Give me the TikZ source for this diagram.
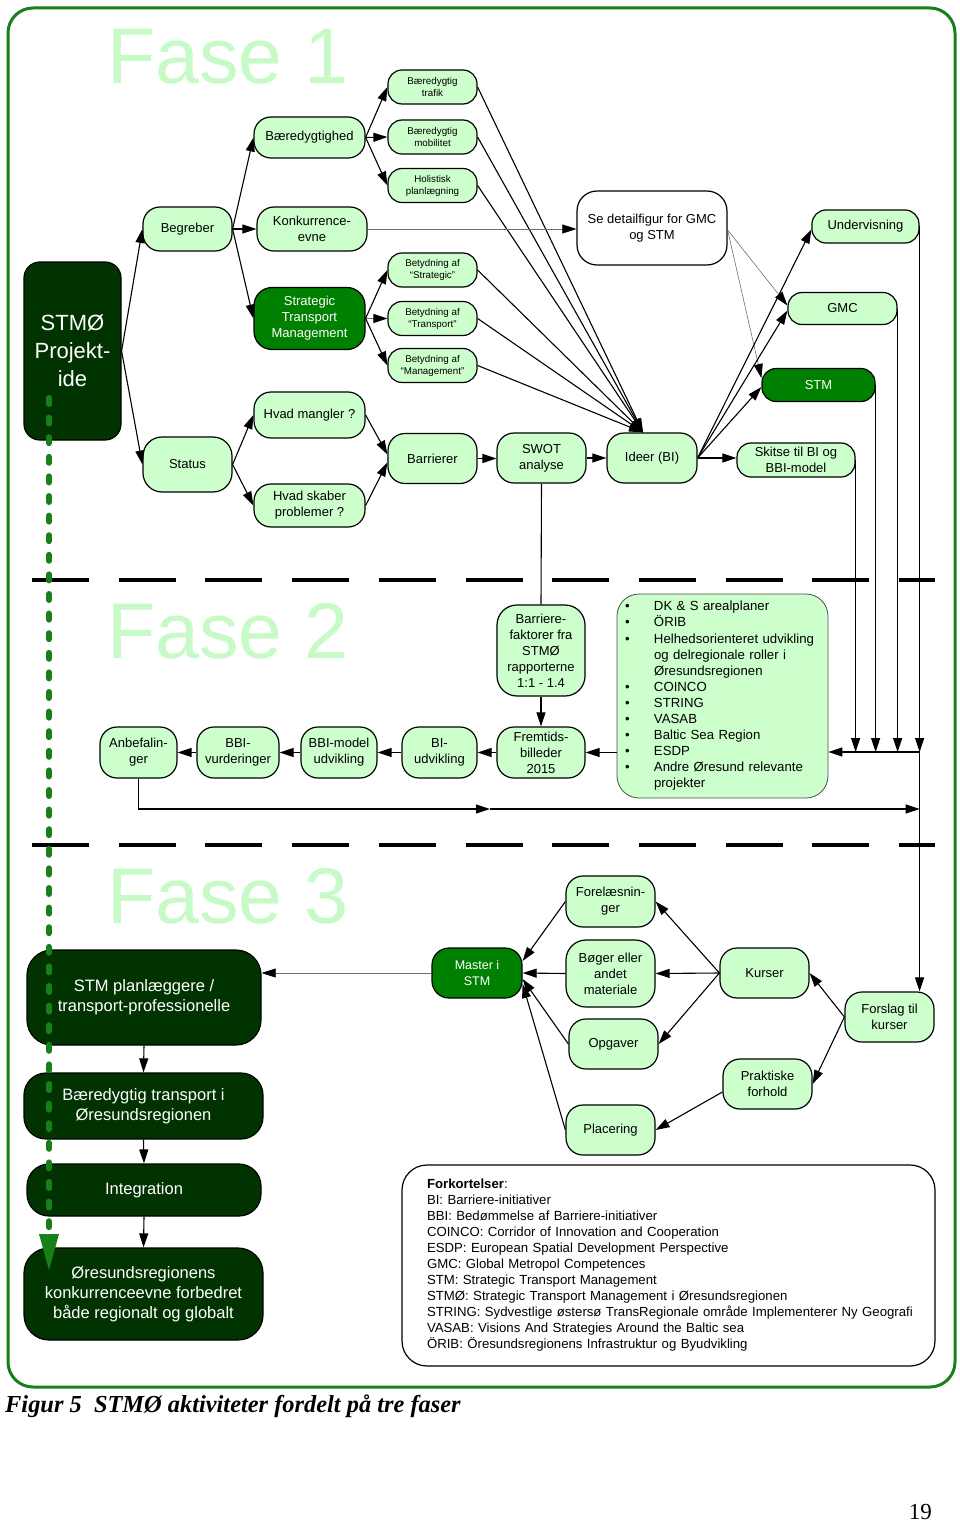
\documentclass[tikz,border=0pt]{standalone}
\usepackage{fontspec}
\setmainfont{Liberation Sans}
\newfontfamily\serifcap{Liberation Serif}
\usetikzlibrary{arrows.meta}
\definecolor{lgreen}{RGB}{204,255,204}
\definecolor{mgreen}{RGB}{0,128,0}
\definecolor{dgreen}{RGB}{0,51,0}
\definecolor{framegreen}{RGB}{24,128,24}
\definecolor{fasegreen}{RGB}{200,250,200}
\definecolor{thingray}{RGB}{110,110,110}
\newcommand\listbul{\makebox[37pt][l]{\hspace{8pt}\textbullet}}
\newcommand\listind{\hspace*{37pt}}
\tikzset{
  nbase/.style={draw=black, line width=1.2pt, align=center, inner sep=0pt},
  lg/.style={nbase, fill=lgreen, font=\fontsize{13}{16}\selectfont, rounded corners=17pt},
  lgs/.style={nbase, fill=lgreen, font=\fontsize{9.8}{12}\selectfont, rounded corners=14pt, minimum width=89pt, minimum height=34pt},
  mg/.style={lg, fill=mgreen, text=white},
  dg/.style={nbase, fill=dgreen, text=white, font=\fontsize{16.5}{20}\selectfont, rounded corners=22pt},
  arr/.style={line width=1.1pt, -{Triangle[length=14pt,width=9pt]}},
  tarr/.style={line width=0.6pt, draw=thingray, -{Triangle[length=14pt,width=9pt,color=black]}},
  plainline/.style={line width=1.1pt},
  fase/.style={font=\fontsize{79}{80}\selectfont, text=fasegreen, inner sep=0pt, anchor=base west},
}
\begin{document}
\begin{tikzpicture}[x=1pt,y=-1pt]
\useasboundingbox (0,0) rectangle (960,1522);
% frame
\draw[framegreen, line width=3pt, rounded corners=25pt] (8,8) rectangle (955,1387);
% phase titles
\node[fase] (f1) at (107,84) {Fase 1};
\node[fase] (f2) at (107,658) {Fase 2};
\node[fase] (f3) at (107,923) {Fase 3};
% separators
\coordinate (sa1) at (32,580); \coordinate (sa2) at (935,580);
\coordinate (sb1) at (32,845); \coordinate (sb2) at (935,845);
\draw[line width=4pt, dash pattern=on 57pt off 29.7pt] (sa1) -- (sa2);
\draw[line width=4pt, dash pattern=on 57pt off 29.7pt] (sb1) -- (sb2);

% ---------- Fase 1 ----------
\node[dg, font=\fontsize{22}{28}\selectfont, rounded corners=16pt, minimum width=97pt, minimum height=178pt] (stmo) at (72.5,351) {STMØ\\Projekt-\\ide};
\node[lg, minimum width=89pt, minimum height=44pt] (begr) at (187.5,229) {Begreber};
\node[lg, minimum width=89pt, minimum height=55pt, rounded corners=19pt] (status) at (187.5,464.5) {Status};
\node[lg, minimum width=111pt, minimum height=41pt] (baer) at (309.5,137.5) {Bæredygtighed};
\node[lg, minimum width=110pt, minimum height=44pt] (konk) at (312,229) {Konkurrence-\\evne};
\node[mg, minimum width=111pt, minimum height=62pt, rounded corners=18pt] (stmn) at (309.5,318.5) {Strategic\\Transport\\Management};
\node[lg, minimum width=111pt, minimum height=46pt] (hvm) at (309.5,415) {Hvad mangler ?};
\node[lg, minimum width=111pt, minimum height=43pt] (hvs) at (309.5,505.5) {Hvad skaber\\problemer ?};
\node[lgs] (s1) at (432.5,87) {Bæredygtig\\trafik};
\node[lgs] (s2) at (432.5,137) {Bæredygtig\\mobilitet};
\node[lgs] (s3) at (432.5,185.5) {Holistisk\\planlægning};
\node[lgs] (s4) at (432.5,270) {Betydning af\\“Strategic”};
\node[lgs] (s5) at (432.5,318.5) {Betydning af\\“Transport”};
\node[lgs] (s6) at (432.5,365.5) {Betydning af\\“Management”};
\node[lg, minimum width=89pt, minimum height=50pt] (barr) at (432.5,458.5) {Barrierer};
\node[lg, minimum width=89pt, minimum height=50pt] (swot) at (541.5,458) {SWOT\\analyse};
\node[lg, minimum width=90pt, minimum height=50pt] (ideer) at (652,458) {Ideer (BI)};
\node[nbase, fill=white, font=\fontsize{13}{16}\selectfont, rounded corners=20pt, minimum width=150pt, minimum height=74pt] (se) at (652,228) {Se detailfigur for GMC\\og STM};
\node[lg, minimum width=107pt, minimum height=33pt, rounded corners=14pt] (und) at (865.5,226.5) {Undervisning};
\node[lg, minimum width=109pt, minimum height=32pt, rounded corners=14pt] (gmc) at (842.5,308.5) {GMC};
\node[mg, minimum width=113pt, minimum height=33pt, rounded corners=14pt] (stm) at (818.5,385) {STM};
\node[lg, minimum width=118pt, minimum height=34pt, rounded corners=14pt] (skitse) at (796,460) {Skitse til BI og\\BBI-model};

% ---------- Fase 2 ----------
\node[lg, minimum width=88pt, minimum height=91pt, rounded corners=20pt] (bf) at (541,650.5) {Barriere-\\faktorer fra\\STMØ\\rapporterne\\1:1 - 1.4};
\node[lg, minimum width=88pt, minimum height=51pt] (frem) at (541,752.5) {Fremtids-\\billeder\\2015};
\node[nbase, fill=lgreen, draw=black!70, line width=0.8pt, rounded corners=22pt, minimum width=211pt, minimum height=204pt, text width=211pt, align=left, font=\fontsize{13.2}{16.1}\selectfont] (list) at (722.5,696) {\listbul DK \& S arealplaner\\
\listbul ÖRIB\\
\listbul Helhedsorienteret udvikling\\
\listind og delregionale roller i\\
\listind Øresundsregionen\\
\listbul COINCO\\
\listbul STRING\\
\listbul VASAB\\
\listbul Baltic Sea Region\\
\listbul ESDP\\
\listbul Andre Øresund relevante\\
\listind projekter};
\node[lg, minimum width=77pt, minimum height=51pt] (anb) at (138.5,752.5) {Anbefalin-\\ger};
\node[lg, minimum width=82pt, minimum height=51pt] (bbiv) at (238,752.5) {BBI-\\vurderinger};
\node[lg, minimum width=76pt, minimum height=51pt] (bbim) at (339,752.5) {BBI-model\\udvikling};
\node[lg, minimum width=75pt, minimum height=51pt] (biu) at (439.5,752.5) {BI-\\udvikling};

% ---------- Fase 3 ----------
\node[dg, minimum width=234pt, minimum height=95pt, rounded corners=25pt] (stmpl) at (144,997.5) {STM planlæggere /\\transport-professionelle};
\node[dg, minimum width=239pt, minimum height=66pt] (btr) at (143.5,1106) {Bæredygtig transport i\\Øresundsregionen};
\node[dg, minimum width=234pt, minimum height=52pt] (integ) at (144,1190) {Integration};
\node[dg, minimum width=239pt, minimum height=92pt, rounded corners=25pt] (oeres) at (143.5,1294) {Øresundsregionens\\konkurrenceevne forbedret\\både regionalt og globalt};
\node[mg, minimum width=90pt, minimum height=50pt, font=\fontsize{12.5}{16}\selectfont] (master) at (477,973) {Master i\\STM};
\node[lg, minimum width=89pt, minimum height=51pt] (forel) at (610.5,901.5) {Forelæsnin-\\ger};
\node[lg, minimum width=89pt, minimum height=67pt, rounded corners=20pt] (boger) at (610.5,973.5) {Bøger eller\\andet\\materiale};
\node[lg, minimum width=89pt, minimum height=50pt] (opg) at (613.5,1044) {Opgaver};
\node[lg, minimum width=89pt, minimum height=50pt] (plac) at (610.5,1130) {Placering};
\node[lg, minimum width=89pt, minimum height=50pt] (kurs) at (764.5,973) {Kurser};
\node[lg, minimum width=89pt, minimum height=50pt] (prak) at (767.5,1084) {Praktiske\\forhold};
\node[lg, minimum width=89pt, minimum height=50pt] (forsl) at (889.5,1017) {Forslag til\\kurser};
\node[nbase, fill=white, rounded corners=25pt, minimum width=533pt, minimum height=201pt, text width=483pt, inner xsep=25pt, align=left, font=\fontsize{13.2}{16}\selectfont] (fork) at (668.5,1265.5) {\textbf{Forkortelser}:\\
BI: Barriere-initiativer\\
BBI: Bedømmelse af Barriere-initiativer\\
COINCO: Corridor of Innovation and Cooperation\\
ESDP: European Spatial Development Perspective\\
GMC: Global Metropol Competences\\
STM: Strategic Transport Management\\
STMØ: Strategic Transport Management i Øresundsregionen\\
\mbox{STRING: Sydvestlige østersø TransRegionale område Implementerer Ny Geografi}\\
VASAB: Visions And Strategies Around the Baltic sea\\
ÖRIB: Öresundsregionens Infrastruktur og Byudvikling};

% ---------- connectors Fase 1 ----------
\draw[arr] (stmo.east) -- (begr.west);
\draw[arr] (stmo.east) -- (status.west);
\draw[arr] (begr.east) -- (baer.west);
\draw[arr] (begr.east) -- (konk.west);
\draw[arr] (begr.east) -- (stmn.west);
\draw[arr] (baer.east) -- (s1.west);
\draw[arr] (baer.east) -- (s2.west);
\draw[arr] (baer.east) -- (s3.west);
\draw[arr] (stmn.east) -- (s4.west);
\draw[arr, draw=thingray, -{Triangle[length=14pt,width=9pt,color=black]}] (stmn.east) -- (s5.west);
\draw[arr] (stmn.east) -- (s6.west);
\draw[arr] (status.east) -- (hvm.west);
\draw[arr] (status.east) -- (hvs.west);
\draw[arr] (hvm.east) -- ([yshift=4pt]barr.west);
\draw[arr] (hvs.east) -- ([yshift=-4pt]barr.west);
\draw[arr] (barr.east) -- (barr.east -| swot.west);
\draw[arr] (swot.east) -- (swot.east -| ideer.west);
\foreach \s in {s1,s2,s3,s4,s5,s6}
  \draw[arr] (\s.east) -- ([xshift=-9pt]ideer.north);
\draw[tarr] (konk.east) -- (konk.east -| se.west);
\draw[tarr] ([yshift=-2pt]se.east) -- ([yshift=3pt]gmc.west);
\draw[tarr] ([yshift=-2pt]se.east) -- ([yshift=7pt]stm.west);
\draw[arr] (ideer.east) -- ([yshift=-3pt]und.west);
\draw[arr] (ideer.east) -- ([yshift=-2pt]gmc.west);
\draw[arr] (ideer.east) -- ([yshift=-2pt]stm.west);
\draw[arr] (ideer.east) -- (ideer.east -| skitse.west);
\coordinate (J) at (und.east |- 0,752);
\draw[arr] (und.east) -- (J);
\draw[arr] (gmc.east) -- (gmc.east |- J);
\draw[arr] (stm.east) -- (stm.east |- J);
\draw[arr] (skitse.east) -- (skitse.east |- J);
\draw[arr] (J) -- (J -| list.east);
\draw[arr] (J) -- (J |- forsl.north);

% ---------- connectors Fase 2 ----------
\draw[plainline] (swot.south) -- (bf.north);
\draw[arr] (bf.south) -- (frem.north);
\draw[arr] (frem.east -| list.west) -- (frem.east);
\draw[arr] (frem.west) -- (biu.east);
\draw[arr] (biu.west) -- (bbim.east);
\draw[arr] (bbim.west) -- (bbiv.east);
\draw[arr] (bbiv.west) -- (anb.east);
\coordinate (M) at (490,809);
\coordinate (K) at (J |- 0,809);
\draw[arr] (anb.south) |- (M);
\draw[arr] (M) -- (K);

% ---------- connectors Fase 3 ----------
\draw[tarr] (master.west) -- (master.west -| stmpl.east);
\draw[arr] (stmpl.south) -- (btr.north);
\draw[arr] (btr.south) -- (integ.north);
\draw[arr] (integ.south) -- (oeres.north);
\draw[arr] (forel.west) -- ([yshift=12pt]master.east);
\draw[arr] (boger.west) -- (master.east);
\draw[arr] (opg.west) -- ([yshift=-6pt]master.east);
\draw[arr] (plac.west) -- ([yshift=-11pt]master.east);
\draw[arr] (kurs.west) -- (forel.east);
\draw[arr] (kurs.west) -- (boger.east);
\draw[arr] (kurs.west) -- (opg.east);
\draw[arr] (forsl.west) -- (kurs.east);
\draw[arr] (forsl.west) -- (prak.east);
\draw[arr] ([yshift=-8pt]prak.west) -- (plac.east);

% green dotted timeline
\coordinate (gd1) at (49,398);
\coordinate (gd2) at (49,1232);
\draw[framegreen, line width=6pt, line cap=round, dash pattern=on 6pt off 13.6pt] (gd1) -- (gd2);
\fill[framegreen] (39,1234) -- (59,1234) -- (49,1270) -- cycle;

% caption and page number
\node[font=\serifcap\bfseries\itshape\fontsize{24.4}{28}\selectfont, anchor=base west, inner sep=0pt] (cap) at (5,1412) {Figur 5\hspace{0.5em}STMØ aktiviteter fordelt på tre faser};
\node[font=\serifcap\fontsize{23}{26}\selectfont, anchor=base east, inner sep=0pt] (pnum) at (932,1519) {19};
\end{tikzpicture}
\end{document}
